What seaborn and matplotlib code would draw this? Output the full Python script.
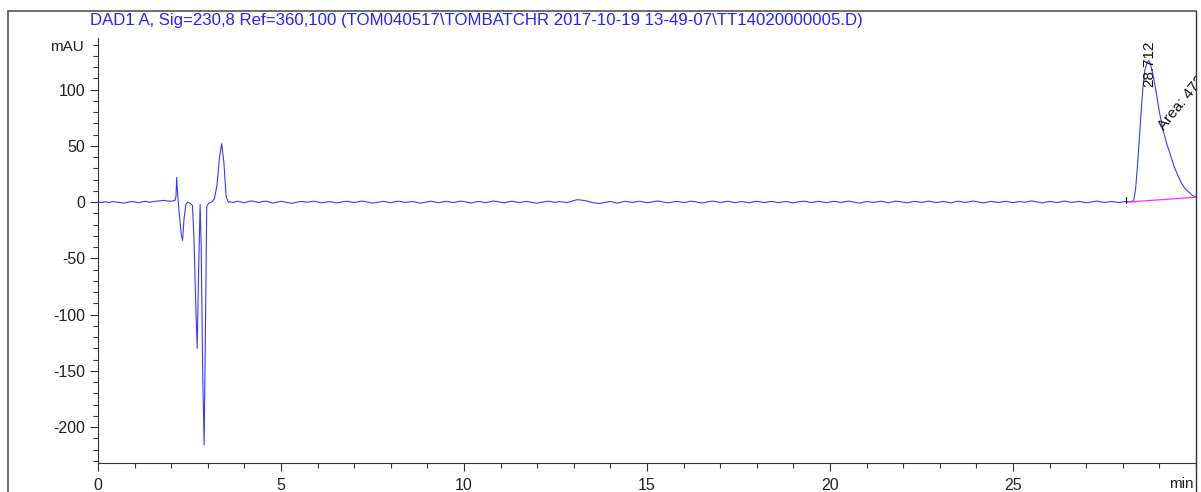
import numpy as np
import pandas as pd
import matplotlib
matplotlib.use("Agg")
import matplotlib.pyplot as plt
from matplotlib.lines import Line2D
from matplotlib.ticker import MultipleLocator
import seaborn as sns

# ---------------- data ----------------
title = r"DAD1 A, Sig=230,8 Ref=360,100 (TOM040517\TOMBATCHR 2017-10-19 13-49-07\TT14020000005.D)"
x_ticks = [0, 5, 10, 15, 20, 25]
y_ticks = [-200, -150, -100, -50, 0, 50, 100]

sample_step = 0.1  # detector sampling interval used for the baseline segments (min)

# baseline 0.0 - 1.9 min
base1_start = 0.0
base1_vals = [0.2, -0.5, 0.4, -0.3, 0.6, 0.1, -0.4, -0.9, -0.2, 0.5,
              0.3, -0.6, 0.2, 0.7, -0.1, 0.4, 0.9, 1.2, 1.6, 1.0]

# solvent-front disturbance 2.0 - 3.56 min
front_t = [2.00, 2.10, 2.13, 2.15, 2.18, 2.22, 2.28, 2.31, 2.35, 2.40, 2.45, 2.52,
           2.58, 2.62, 2.67, 2.71, 2.75, 2.79, 2.82, 2.86, 2.90, 2.94, 2.97, 3.02,
           3.10, 3.18, 3.25, 3.32, 3.38, 3.44, 3.50, 3.56]
front_v = [0.8, 1.5, 5, 22, 5, -10, -30, -34, -15, -2, 0, -1,
           -3, -30, -90, -130, -60, -2, -40, -150, -216, -100, -4, -1,
           0, 3, 15, 40, 52, 35, 5, 0]

# baseline 3.6 - 28.2 min
base2_start = 3.6
base2_vals = [
    0.4, -0.3, 0.8, 0.2, -0.6, 0.5, 1.1, 0.3, -0.4, 0.6,
    0.9, -0.2, -0.8, 0.1, 0.7, 0.2, -0.5, -1.0, -0.3, 0.4,
    0.6, -0.1, 0.3, 0.9, 0.2, -0.6, -0.2, 0.5, 0.1, -0.7,
    -0.3, 0.4, 0.8, 0.2, -0.4, 0.3, 1.0, 0.5, -0.2, -0.8,
    -0.4, 0.2, 0.7, 0.1, -0.5, 0.3, 0.9, 0.4, -0.3, 0.2,
    0.6, -0.2, -0.9, -0.4, 0.3, 0.8, 0.2, -0.5, 0.1, 0.7,
    0.3, -0.4, 0.2, 0.9, 0.5, -0.2, -0.7, 0.1, 0.6, 0.2,
    -0.5, 0.3, 1.0, 0.6, -0.1, -0.6, 0.2, 0.8, 0.3, -0.4,
    0.1, 0.7, 0.2, -0.5, -0.9, -0.3, 0.4, 0.9, 0.3, -0.2,
    0.5, 0.2, -0.4, 0.3, 1.4, 2.2, 1.8, 1.5, 0.6, -0.3,
    -0.8, -1.2, -0.5, 0.2, 0.6, -0.2, -0.9, 0.1, 0.7, 0.3,
    -0.3, 0.4, 0.8, 0.2, -0.5, -0.1, 0.6, 1.0, 0.4, -0.2,
    -0.6, 0.2, 0.7, 0.3, -0.4, 0.1, 0.9, 0.5, -0.2, -0.7,
    -0.2, 0.5, 0.9, 0.4, -0.3, 0.2, 0.8, 0.3, -0.5, 0.1,
    0.6, -0.1, -0.6, 0.3, 0.8, 0.2, -0.4, 0.2, 0.7, 0.1,
    -0.5, 0.2, 0.6, -0.1, -0.7, 0.1, 0.5, 0.9, 0.2, -0.4,
    0.3, 0.8, 0.1, -0.5, 0.2, 0.7, 0.3, -0.3, 0.4, 0.9,
    0.3, -0.4, -0.9, -0.2, 0.5, 0.2, -0.3, 0.4, 0.8, 0.1,
    -0.5, 0.2, 0.9, 0.5, -0.1, -0.6, 0.1, 0.7, 0.3, -0.3,
    0.4, 0.9, 0.2, -0.4, 0.1, 0.6, -0.1, -0.7, 0.2, 0.8,
    0.3, -0.3, 0.4, 1.0, 0.5, -0.2, -0.6, 0.1, 0.7, 0.2,
    -0.4, 0.3, 0.8, 0.2, -0.5, 0.2, 0.6, -0.1, 0.4, 1.1,
    0.5, -0.2, -0.7, 0.1, 0.6, 0.2, -0.4, 0.3, 0.9, 0.4,
    -0.3, 0.2, 0.7, 0.1, -0.5, -0.1, 0.5, 0.9, 0.3, -0.3,
    0.2, 0.6, 0.1, -0.4, 0.3, 0.7, 0.2]

# main peak 28.25 - 30.0 min
peak_t = [28.25, 28.30, 28.35, 28.40, 28.45, 28.50, 28.55, 28.60, 28.65, 28.712,
          28.76, 28.80, 28.85, 28.90, 28.95, 29.00, 29.05, 29.10, 29.20, 29.30,
          29.40, 29.50, 29.60, 29.70, 29.80, 29.90, 30.00]
peak_v = [0.3, 2, 12, 32, 55, 80, 102, 117, 123, 126,
          122, 117, 109, 100, 90, 80, 72, 64, 52, 42,
          32, 24, 17, 12, 9, 6, 4.5]

peak_rt_label = "28.712"
peak_area_label = "Area: 4721.52"
integ_t = [28.10, 30.0]   # integration baseline start / end
integ_v = [0.0, 4.4]

# ---------------- assemble ----------------
t1 = base1_start + sample_step * np.arange(len(base1_vals))
t2 = base2_start + sample_step * np.arange(len(base2_vals))
time = np.concatenate([t1, front_t, t2, peak_t])
signal = np.concatenate([base1_vals, front_v, base2_vals, peak_v])
df = pd.DataFrame({"time": time, "signal": signal})
df_int = pd.DataFrame({"time": integ_t, "signal": integ_v})

# ---------------- plot ----------------
sns.set_theme(style="white")
plt.rcParams["font.family"] = ["Liberation Sans", "DejaVu Sans"]
plt.rcParams["axes.unicode_minus"] = False

W, H = 1201, 492
fig = plt.figure(figsize=(W / 100, H / 100), dpi=100)
ax = fig.add_axes([98 / W, 1 - 463 / H, (1196 - 98) / W, (463 - 38) / H])

sns.lineplot(data=df, x="time", y="signal", ax=ax, sort=False, estimator=None,
             color="#3a3aff", linewidth=0.8)
sns.lineplot(data=df_int, x="time", y="signal", ax=ax, sort=False, estimator=None,
             color="#ff30ff", linewidth=0.9)
ax.plot([integ_t[0], integ_t[0]], [-1, 5], color="black", lw=0.8)

ax.set_xlim(0, 30)
ax.set_ylim(-232, 146)
ax.set_xlabel("")
ax.set_ylabel("")
ax.set_xticks(x_ticks)
ax.set_yticks(y_ticks)
ax.xaxis.set_minor_locator(MultipleLocator(1))
ax.yaxis.set_minor_locator(MultipleLocator(10))
ax.tick_params(axis="both", which="major", direction="out", length=6, width=0.8,
               color="#333333", labelsize=11.5, labelcolor="#222222", pad=3)
ax.tick_params(axis="x", which="major", pad=5)
ax.tick_params(axis="both", which="minor", direction="out", length=3.5, width=0.8,
               color="#333333")
ax.tick_params(axis="x", which="both", bottom=True)
ax.tick_params(axis="y", which="both", left=True)
for s in ["top", "right"]:
    ax.spines[s].set_visible(False)
for s in ["left", "bottom"]:
    ax.spines[s].set_color("#333333")
    ax.spines[s].set_linewidth(0.8)

ax.text(28.712, 102, peak_rt_label, rotation=90, ha="center", va="bottom",
        fontsize=11, color="#111111")
ax.text(29.2, 62, peak_area_label, rotation=51, ha="left", va="bottom",
        fontsize=11, color="#111111", clip_on=True, rotation_mode="anchor")

fig.text(1194 / W, 1 - 484 / H, "min", ha="right", va="center", fontsize=11,
         color="#222222")
fig.text(84 / W, 1 - 47 / H, "mAU", ha="right", va="center", fontsize=11,
         color="#222222")
fig.text(90 / W, 1 - 21 / H, title, ha="left", va="center", fontsize=12.1,
         color="#2424ff")

# screenshot frame
fx0, fx1, fy = 8 / W, 1196 / W, 1 - 10.5 / H
fig.add_artist(Line2D([fx0, fx0], [0, fy], transform=fig.transFigure, color="#555555", lw=1.2))
fig.add_artist(Line2D([fx0, fx1], [fy, fy], transform=fig.transFigure, color="#555555", lw=1.2))
fig.add_artist(Line2D([fx1, fx1], [0, fy], transform=fig.transFigure, color="#333333", lw=1.0))

fig.savefig("out.png", dpi=100)
